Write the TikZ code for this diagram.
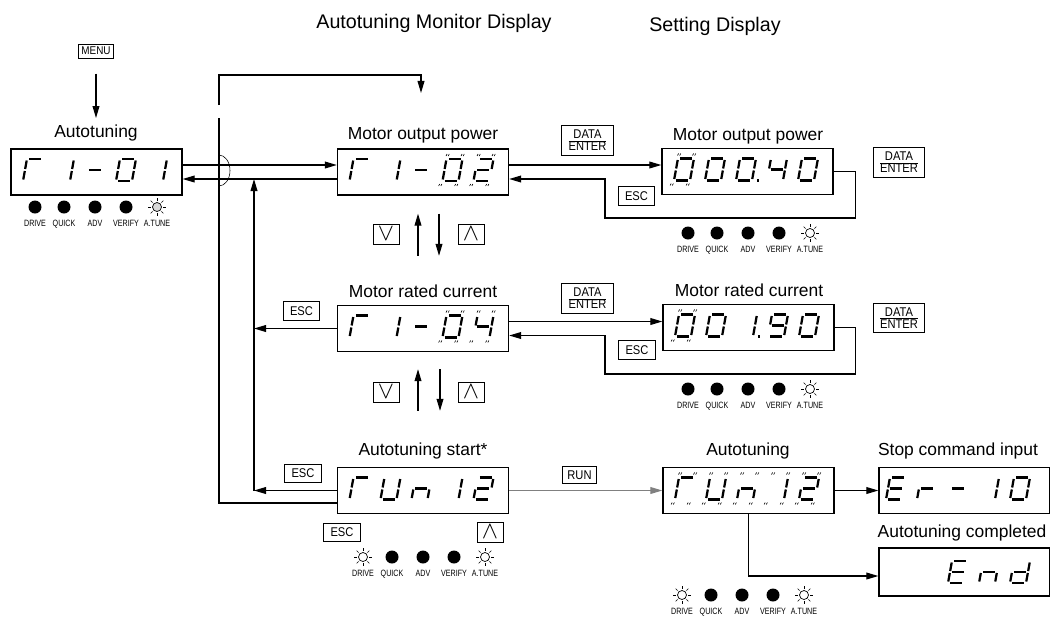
\documentclass[tikz,border=0pt]{standalone}
\usepackage{amsmath}
\usepackage{fontspec}
\setmainfont{Liberation Sans}
\newfontfamily\keyfont[FakeStretch=0.88]{Liberation Sans}
\newfontfamily\ledfont[FakeStretch=0.78]{Liberation Sans}
\usetikzlibrary{arrows.meta,positioning,calc}

% seven segment digits: #1 = x of first cell, #2 = base line, #3 = cells
\newcommand{\segdisp}[3]{%
  \foreach \segs [count=\i from 0] in {#3}{
    \begin{scope}[shift={(#1+31*\i,#2)},xslant=0.18]
      \coordinate (sa1) at (2.5,-22); \coordinate (sa2) at (14.5,-22);
      \coordinate (sb1) at (16,-20.5); \coordinate (sb2) at (16,-12);
      \coordinate (sc1) at (16,-10);   \coordinate (sc2) at (16,-1.5);
      \coordinate (sd1) at (2,0);      \coordinate (sd2) at (14,0);
      \coordinate (se1) at (0,-10);    \coordinate (se2) at (0,-1.5);
      \coordinate (sf1) at (0,-20.5);  \coordinate (sf2) at (0,-12);
      \coordinate (sg1) at (2,-11);    \coordinate (sg2) at (14,-11);
      \coordinate (sp1) at (21,0);     \coordinate (sp2) at (23,0);
      \foreach \s in \segs {\draw[segline] (s\s1) -- (s\s2);}
    \end{scope}
  }
}
% flashing marks round the cells
\newcommand{\blink}[3]{%
  \foreach \i in {#3}{
    \begin{scope}[shift={(#1+31*\i,#2)},xslant=0.18]
      \foreach \bx/\by in {-1/-25,14/-25,-3/5,13/5}{
        \draw[blinkmark] (\bx,\by) -- ++(0.7,-2) (\bx+2.2,\by) -- ++(0.7,-2);}
    \end{scope}
  }
}
\newcommand{\darkled}[2]{\fill (#1,#2) circle (6.5);}
\newcommand{\litled}[3][white]{%
  \filldraw[fill=#1,line width=0.5pt] (#2,#3) circle (4.5);
  \foreach \a in {0,45,...,315}{\draw[line width=0.45pt] (#2,#3) ++(\a:6.3) -- ++(\a:2.6);}
}
% #3 = DRIVE lamp, #4 = fill of A.TUNE lamp
\newcommand{\ledrow}[4]{%
  \foreach \ledname/\dx in {DRIVE/0,QUICK/29,ADV/60,VERIFY/91,A.TUNE/122}{
    \node[ledlbl] at (#1+\dx,#2+19.5) {\ledname};}
  #3{#1}{#2}
  \foreach \dx in {29,60,91}{\darkled{#1+\dx}{#2}}
  \litled[#4]{#1+122}{#2}
}

\begin{document}
\begin{tikzpicture}[x=0.025cm,y=-0.025cm,
  display/.style={draw,line width=0.9pt,minimum width=4.275cm,minimum height=1.15cm,inner sep=0pt},
  keybox/.style={draw,line width=0.7pt,inner sep=0pt,font=\keyfont\fontsize{9}{10}\selectfont},
  esckey/.style={keybox,minimum width=0.92cm,minimum height=0.47cm},
  arrowkey/.style={keybox,minimum width=0.65cm,minimum height=0.5cm,font=\fontsize{16}{16}\selectfont},
  enterkey/.style={keybox,minimum width=1.28cm,minimum height=0.73cm},
  lbl/.style={anchor=base,inner sep=0pt,font=\fontsize{12.4}{14}\selectfont},
  ledlbl/.style={anchor=base,inner sep=0pt,font=\ledfont\fontsize{6.5}{7}\selectfont},
  arr/.style={-{Triangle[length=3mm,width=1.7mm]},line width=0.85pt},
  segline/.style={line width=1.6pt},
  blinkmark/.style={line width=0.45pt}
]
\useasboundingbox (0,0) rectangle (1050,619);

% headings
\node[lbl,font=\fontsize{14}{16}\selectfont] (hMonitor) at (434,28) {Autotuning Monitor Display};
\node[lbl,font=\fontsize{14}{16}\selectfont] (hSetting) at (715,31) {Setting Display};

% Autotuning group
\node[keybox,minimum width=0.875cm,minimum height=0.35cm,font=\keyfont\fontsize{8}{9}\selectfont] (kMenu) at (96,51) {MENU};
\node[lbl] (lAuto) at (96,137) {Autotuning};
\node[display] (dAuto) at (96.5,172) {};
\segdisp{23}{181}{{a,e,f},{b,c},{g},{a,b,c,d,e,f},{b,c}}
\ledrow{35}{207}{\darkled}{gray!30}

% monitor column
\node[lbl] (lPower) at (423,139) {Motor output power};
\node[display] (dPower) at (423,172) {};
\segdisp{349.5}{181}{{a,e,f},{b,c},{g},{a,b,c,d,e,f},{a,b,g,e,d}}
\blink{349.5}{181}{3,4}

\node[lbl] (lCurrent) at (423,297) {Motor rated current};
\node[display] (dCurrent) at (423,328.5) {};
\segdisp{349.5}{337.5}{{a,e,f},{b,c},{g},{a,b,c,d,e,f},{f,g,b,c}}
\blink{349.5}{337.5}{3,4}

\node[lbl] (lStart) at (423,455) {Autotuning start*};
\node[display] (dStart) at (423,490.5) {};
\segdisp{349.5}{499.5}{{a,e,f},{b,c,d,e,f},{g,e,c},{b,c},{a,b,g,e,d}}
\ledrow{363}{557}{\litled}{white}

% up / down keys
\node[arrowkey] (kDownA) at (386,234) {$\vee$};
\node[arrowkey] (kUpA) at (471,234) {$\wedge$};
\node[arrowkey] (kDownB) at (386,392) {$\vee$};
\node[arrowkey] (kUpB) at (471,392) {$\wedge$};
\node[arrowkey] (kUpStart) at (490,532) {$\wedge$};

% ESC keys
\node[esckey] (kEscCur) at (301.5,311) {ESC};
\node[esckey] (kEscStart) at (303,473.5) {ESC};
\node[esckey] (kEscStartB) at (342,532.5) {ESC};
\node[esckey] (kEscA) at (636.5,196) {ESC};
\node[esckey] (kEscB) at (637,350) {ESC};

% setting column
\node[lbl] (lSetPower) at (748,140) {Motor output power};
\node[display] (sPower) at (747.5,171.5) {};
\segdisp{674}{180.5}{{a,b,c,d,e,f},{a,b,c,d,e,f},{a,b,c,d,e,f,p},{f,g,b,c},{a,b,c,d,e,f}}
\blink{674}{180.5}{0}
\ledrow{688}{233}{\darkled}{white}

\node[lbl] (lSetCurrent) at (749,296) {Motor rated current};
\node[display] (sCurrent) at (748.5,327.5) {};
\segdisp{675}{336.5}{{a,b,c,d,e,f},{a,b,c,d,e,f},{b,c,p},{a,b,c,d,f,g},{a,b,c,d,e,f}}
\blink{675}{336.5}{0}
\ledrow{688}{389}{\darkled}{white}

\node[enterkey] (kEnterA) at (587.5,140.5) {$\genfrac{}{}{0.5pt}{1}{\mbox{DATA}}{\mbox{ENTER}}$};
\node[enterkey] (kEnterAr) at (899,162.5) {$\genfrac{}{}{0.5pt}{1}{\mbox{DATA}}{\mbox{ENTER}}$};
\node[enterkey] (kEnterB) at (587.5,298.5) {$\genfrac{}{}{0.5pt}{1}{\mbox{DATA}}{\mbox{ENTER}}$};
\node[enterkey] (kEnterBr) at (899,318) {$\genfrac{}{}{0.5pt}{1}{\mbox{DATA}}{\mbox{ENTER}}$};

% autotuning run
\node[keybox,minimum width=0.85cm,minimum height=0.42cm] (kRun) at (579.5,475) {RUN};
\node[lbl] (lTuning) at (748,455) {Autotuning};
\node[display] (dTuning) at (748.5,490.5) {};
\segdisp{675}{499.5}{{a,e,f},{b,c,d,e,f},{g,e,c},{b,c},{a,b,g,e,d}}
\blink{675}{499.5}{0,1,2,3,4}
\ledrow{682}{595}{\litled}{white}

\node[lbl] (lStop) at (958,455) {Stop command input};
\node[display] (dStop) at (964.5,490.5) {};
\segdisp{886}{499.5}{{a,d,e,f,g},{e,g},{g},{b,c},{a,b,c,d,e,f}}

\node[lbl] (lEnd) at (962,537) {Autotuning completed};
\node[display,minimum height=1.2cm] (dEnd) at (964.5,572) {};
\segdisp{948}{583}{{a,d,e,f,g},{g,e,c},{b,c,d,e,g}}

% Arrows
\coordinate (retTop) at (219,75);
\coordinate (retEnd) at (421,93);
\coordinate (escTop) at (254,179);
\coordinate (jump) at (219,170.5);
\coordinate (loopA) at (605,218);
\coordinate (loopB) at (605,374);
\coordinate (pLow) at ([yshift=-0.175cm]dPower.east);
\coordinate (cLow) at ([yshift=-0.175cm]dCurrent.east);

\draw[arr,shorten <=0.38cm,shorten >=0.15cm] (kMenu) -- (lAuto);
\draw[arr] ([yshift=0.175cm]dAuto.east) -- ([yshift=0.175cm]dPower.west);
\draw[arr] ([yshift=-0.175cm]dPower.west) -- ([yshift=-0.175cm]dAuto.east);
\draw (jump) ++(0,-15.5) arc[start angle=-90,end angle=90,x radius=11,y radius=15.5];
\draw[arr] ([yshift=-0.3125cm]dStart.west) -| ($(retTop)+(0,43)$) ($(retTop)+(0,30)$) -- (retTop) -| (retEnd);

\draw[arr] (dStart.west) -- (dStart.west -| escTop);
\draw[arr] (dStart.west -| escTop) -- (escTop);
\draw[arr] (dCurrent.west) -- (dCurrent.west -| escTop);

\draw[arr,shorten <=1.225cm,shorten >=0.45cm] ([xshift=-0.125cm]dCurrent.north) -- ([xshift=-0.125cm]dPower.south);
\draw[arr,shorten <=0.45cm,shorten >=1.225cm] ([xshift=0.4cm]dPower.south) -- ([xshift=0.4cm]dCurrent.north);
\draw[arr,shorten <=1.4cm,shorten >=0.425cm] ([xshift=-0.125cm]dStart.north) -- ([xshift=-0.125cm]dCurrent.south);
\draw[arr,shorten <=0.425cm,shorten >=1.4cm] ([xshift=0.425cm]dCurrent.south) -- ([xshift=0.425cm]dStart.north);

\draw[arr] ([yshift=0.175cm]dPower.east) -- ([yshift=0.175cm]dPower.east -| sPower.west);
\draw[arr] (sPower.east) -- ++(22,0) |- (loopA) -- (loopA |- pLow) -- (pLow);
\draw[arr] ([yshift=0.175cm]dCurrent.east) -- ([yshift=0.175cm]dCurrent.east -| sCurrent.west);
\draw[arr] (sCurrent.east) -- ++(21,0) |- (loopB) -- (loopB |- cLow) -- (cLow);

\draw[arr,color=gray] (dStart) -- (dTuning);
\draw[arr] (dTuning) -- (dStop);
\draw[arr] (dTuning.south) |- ([yshift=-0.1cm]dEnd.west);

\end{tikzpicture}
\end{document}
